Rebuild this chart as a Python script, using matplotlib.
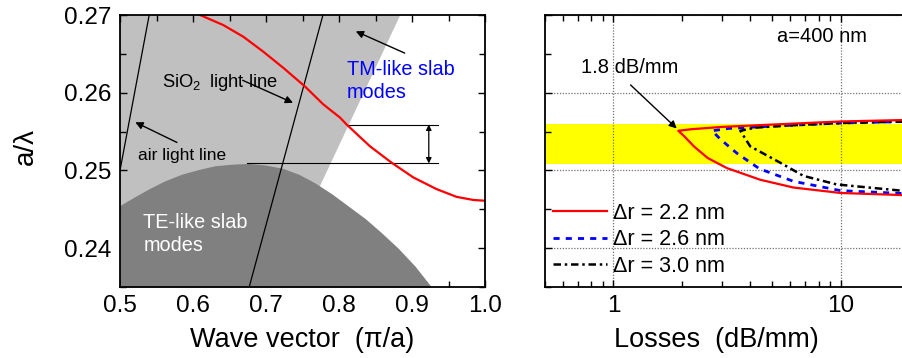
import matplotlib
matplotlib.use("Agg")
import matplotlib.pyplot as plt
from matplotlib.ticker import MultipleLocator, LogLocator, NullFormatter, FixedLocator, FixedFormatter

plt.rcParams['font.family'] = ['Liberation Sans', 'DejaVu Sans']
plt.rcParams['mathtext.fontset'] = 'custom'
plt.rcParams['mathtext.rm'] = 'Liberation Sans'
plt.rcParams['mathtext.default'] = 'regular'

# ---------------- data: left panel (band diagram) ----------------
band_k = [0.6096, 0.6416, 0.669, 0.696, 0.7237, 0.7534, 0.7785, 0.8014, 0.8105, 0.8425,
          0.872, 0.9018, 0.9336, 0.961, 0.984, 1.000]
band_f = [0.2700, 0.2687, 0.2672, 0.2653, 0.2632, 0.2608, 0.2585, 0.2568, 0.2559, 0.2531,
          0.2510, 0.2491, 0.2476, 0.2466, 0.2462, 0.2461]

te_k = [0.500, 0.520, 0.539, 0.560, 0.584, 0.607, 0.630, 0.653, 0.676, 0.699, 0.722, 0.745, 0.767,
        0.790, 0.813, 0.836, 0.858, 0.881, 0.904, 0.925]
te_f = [0.2455, 0.2466, 0.2476, 0.2486, 0.2495, 0.2501, 0.2506, 0.2508, 0.2509, 0.2507, 0.2503, 0.2495, 0.2484,
        0.2470, 0.2454, 0.2438, 0.2420, 0.2400, 0.2377, 0.2352]

tm_edge_k = [0.884, 0.776]
tm_edge_f = [0.2700, 0.2484]

air_line_k = [0.500, 0.540]
air_line_f = [0.2500, 0.2700]
sio2_line_k = [0.677, 0.778]
sio2_line_f = [0.2350, 0.2700]

gap_top = 0.2559
gap_bottom = 0.2509

# ---------------- data: right panel (losses) ----------------
r22_loss = [20.0, 10.0, 5.0, 3.0, 2.2, 1.93, 2.05, 2.26, 2.6, 3.16, 4.43, 6.2, 10.0, 20.0]
r22_f = [0.2565, 0.2563, 0.2559, 0.2556, 0.2553, 0.2551, 0.2544, 0.2531, 0.2516, 0.2503, 0.2488, 0.2478, 0.2471, 0.2468]

r26_loss = [20.0, 10.0, 5.0, 3.2, 2.72, 2.96, 3.5, 4.4, 6.2, 10.0, 20.0]
r26_f = [0.2563, 0.2561, 0.2557, 0.2554, 0.2551, 0.2540, 0.2522, 0.2502, 0.2486, 0.2474, 0.2470]

r30_loss = [20.0, 10.0, 6.0, 4.2, 3.62, 4.0, 5.42, 6.86, 9.6, 20.0]
r30_f = [0.2563, 0.2561, 0.2558, 0.2555, 0.2551, 0.2531, 0.2510, 0.2493, 0.2482, 0.2473]

legend_labels = ['\u0394r = 2.2 nm', '\u0394r = 2.6 nm', '\u0394r = 3.0 nm']
band_low, band_high = 0.2508, 0.2560

# ---------------- figure ----------------
W, H = 902, 358
fig = plt.figure(figsize=(W / 100, H / 100), dpi=100)
ax1 = fig.add_axes([120 / W, (H - 287) / H, 365 / W, 272 / H])
ax2 = fig.add_axes([545 / W, (H - 287) / H, 364 / W, 272 / H])

ymin, ymax = 0.235, 0.27

# ---- left panel ----
ax1.set_xlim(0.5, 1.0)
ax1.set_ylim(ymin, ymax)
light_x = [0.5, 0.5] + tm_edge_k + [tm_edge_k[1] - 5 * (tm_edge_f[1] - ymin)]
light_y = [ymin, ymax] + tm_edge_f + [ymin]
ax1.fill(light_x, light_y, color='#c0c0c0', lw=0, zorder=1)
ax1.fill_between(te_k, ymin, te_f, color='#808080', lw=0, zorder=2)
ax1.plot(air_line_k, air_line_f, color='k', lw=0.9, zorder=3)
ax1.plot(sio2_line_k, sio2_line_f, color='k', lw=0.9, zorder=3)
ax1.plot(band_k, band_f, color='#ff0000', lw=1.6, zorder=4)
ax1.plot([0.811, 0.935], [gap_top, gap_top], color='k', lw=0.8, zorder=3)
ax1.plot([0.674, 0.935], [gap_bottom, gap_bottom], color='k', lw=0.8, zorder=3)
ax1.annotate('', xy=(0.923, gap_bottom), xytext=(0.923, gap_top),
             arrowprops=dict(arrowstyle='<|-|>', color='k', lw=0.9, mutation_scale=8,
                             shrinkA=0, shrinkB=0), zorder=5)

arrow = dict(arrowstyle='-|>', color='k', lw=1.0, mutation_scale=11, shrinkA=0, shrinkB=0)
ax1.text(0.557, 0.2613, 'SiO$_2$\u2009 light line', fontsize=13.2, ha='left', va='center', zorder=6)
ax1.annotate('', xy=(0.737, 0.2587), xytext=(0.668, 0.2616), arrowprops=arrow, zorder=6)
ax1.text(0.525, 0.2519, 'air light line', fontsize=12.5, ha='left', va='center', zorder=6)
ax1.annotate('', xy=(0.521, 0.2562), xytext=(0.578, 0.2536), arrowprops=arrow, zorder=6)
ax1.text(0.811, 0.2615, 'TM-like slab\nmodes', fontsize=14.3, color='#0000ff', ha='left', va='center',
         linespacing=1.3, zorder=6)
ax1.annotate('', xy=(0.823, 0.2679), xytext=(0.890, 0.2651), arrowprops=arrow, zorder=6)
ax1.text(0.532, 0.2418, 'TE-like slab\nmodes', fontsize=14.3, color='white', ha='left', va='center',
         linespacing=1.3, zorder=6)

ax1.xaxis.set_major_locator(MultipleLocator(0.1))
ax1.xaxis.set_minor_locator(MultipleLocator(0.05))
ax1.yaxis.set_major_locator(MultipleLocator(0.01))
ax1.yaxis.set_minor_locator(MultipleLocator(0.005))
ax1.xaxis.set_major_formatter(plt.FuncFormatter(lambda v, p: f'{v:.1f}'))
ax1.yaxis.set_major_formatter(plt.FuncFormatter(lambda v, p: f'{v:.2f}'))
ax1.tick_params(which='both', direction='in', top=True, right=True, width=1.0)
ax1.tick_params(which='major', length=5, labelsize=17.5, pad=6)
ax1.tick_params(which='minor', length=4)
ax1.set_xlabel('Wave vector  (\u03c0/a)', fontsize=19.5)
ax1.set_ylabel('a/\u03bb', fontsize=20)
ax1.xaxis.set_label_coords(0.5, -0.148)
ax1.yaxis.set_label_coords(-0.222, 0.515)
for s in ax1.spines.values():
    s.set_linewidth(1.3)
    s.set_zorder(10)

# ---- right panel ----
ax2.set_xscale('log')
ax2.set_xlim(0.5, 20)
ax2.set_ylim(ymin, ymax)
ax2.axhspan(band_low, band_high, color='#ffff00', lw=0, zorder=1)
ax2.yaxis.set_major_locator(MultipleLocator(0.01))
ax2.yaxis.set_minor_locator(MultipleLocator(0.005))
ax2.xaxis.set_major_locator(FixedLocator([1, 10]))
ax2.xaxis.set_major_formatter(FixedFormatter(['1', '10']))
ax2.xaxis.set_minor_locator(LogLocator(base=10, subs=range(2, 10)))
ax2.xaxis.set_minor_formatter(NullFormatter())
ax2.grid(True, which='major', color='#707070', ls=(0, (1, 1.3)), lw=0.9, zorder=1.5)
ax2.set_axisbelow(False)
l1, = ax2.plot(r22_loss, r22_f, color='#ff0000', lw=1.6, zorder=4)
l2, = ax2.plot(r26_loss, r26_f, color='#0000ff', lw=2.0, ls=(0, (2.2, 2.2)), zorder=3)
l3, = ax2.plot(r30_loss, r30_f, color='k', lw=1.8, ls=(0, (3, 1.5, 1, 1.5)), zorder=3)
ax2.tick_params(which='both', direction='in', top=True, right=False, width=1.0, labelleft=False)
ax2.tick_params(which='major', length=5, labelsize=17.5, pad=6)
ax2.tick_params(which='minor', length=4)
ax2.set_xlabel('Losses  (dB/mm)', fontsize=19.5)
ax2.xaxis.set_label_coords(0.47, -0.148)
for s in ax2.spines.values():
    s.set_linewidth(1.3)
    s.set_zorder(10)

ax2.text(5.24, 0.2672, 'a=400 nm', fontsize=14.5, ha='left', va='center')
ax2.text(0.719, 0.2632, '1.8 dB/mm', fontsize=14.5, ha='left', va='center')
ax2.annotate('', xy=(1.90, 0.2554), xytext=(1.19, 0.2610), arrowprops=arrow, zorder=6)

leg = ax2.legend([l1, l2, l3], legend_labels, loc='upper left', bbox_to_anchor=(0.022, 0.31),
                 frameon=False, fontsize=15.5, handlelength=2.5, handletextpad=0.3,
                 labelspacing=0.26, borderpad=0, borderaxespad=0)

fig.savefig('out.png', dpi=100)
